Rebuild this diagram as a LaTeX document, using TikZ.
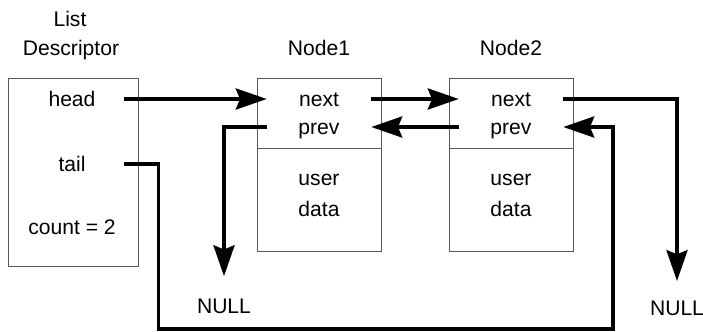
\documentclass[tikz,border=0pt]{standalone}
\usepackage{fontspec}
\setmainfont{Liberation Sans}
\usetikzlibrary{arrows.meta}

\tikzset{
  box/.style={draw=black!65, line width=0.6pt, inner sep=0pt},
  field/.style={inner sep=0pt, minimum width=2.6cm, text height=12pt, text depth=2pt},
  title/.style={inner sep=0pt, text height=12pt, text depth=2pt},
  link/.style={line width=2.3pt, -{Stealth[length=22pt,width=15pt,inset=3pt]}}
}

\begin{document}
\begin{tikzpicture}[x=0.025cm, y=-0.025cm, font=\fontsize{15}{18}\selectfont]
\useasboundingbox (0,0) rectangle (703,331);

% list descriptor
\node[title] (list) at (70,19) {List};
\node[title] (descr) at (71,48) {Descriptor};
\node[box, minimum width=3.25cm, minimum height=4.7cm] (desc) at (73,172) {};
\node[field] (head) at (72,99) {head};
\node[field] (tail) at (72,164) {tail};
\node[field] (count) at (72,227) {count = 2};

% first node
\node[title] (t1) at (319,48) {Node1};
\node[box, minimum width=3.1cm, minimum height=4.325cm] (n1) at (319,164.5) {};
\draw[box] (n1.west |- 0,148) -- (n1.east |- 0,148);
\node[field] (next1) at (319,99) {next};
\node[field] (prev1) at (319,127) {prev};
\node[field] (user1) at (319,178) {user};
\node[field] (data1) at (319,209) {data};

% second node
\node[title] (t2) at (511,48) {Node2};
\node[box, minimum width=3.1cm, minimum height=4.325cm] (n2) at (511,164.5) {};
\draw[box] (n2.west |- 0,148) -- (n2.east |- 0,148);
\node[field] (next2) at (511,99) {next};
\node[field] (prev2) at (511,127) {prev};
\node[field] (user2) at (511,178) {user};
\node[field] (data2) at (511,209) {data};

\node[title] (null1) at (224,306) {NULL};
\node[title] (null2) at (677,308) {NULL};

% links
\draw[link] (head.east) -- (next1.west);
\draw[link] (next1.east) -- (next2.west);
\draw[link] (prev2.west) -- (prev1.east);
\draw[link, shorten >=14pt] (prev1.west) -| (null1.north);
\draw[link, shorten >=12pt] (next2.east) -| (null2.north);
\draw[link] (tail.east) -- ++(34,0) |- (613,329) |- (prev2.east);
\end{tikzpicture}
\end{document}
